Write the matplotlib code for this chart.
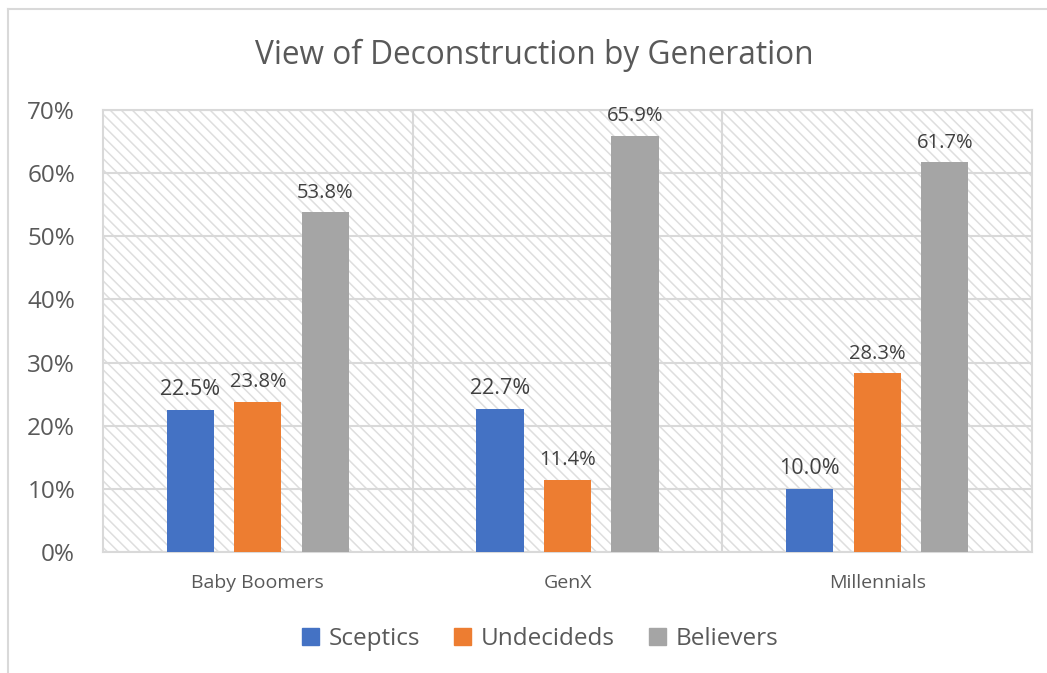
import matplotlib.pyplot as plt
import numpy as np
from matplotlib.lines import Line2D
from matplotlib.patches import Rectangle

categories = ["Baby Boomers", "GenX", "Millennials"]
series_names = ["Sceptics", "Undecideds", "Believers"]
sceptics = [22.5, 22.7, 10.0]
undecideds = [23.8, 11.4, 28.3]
believers = [53.8, 65.9, 61.7]
yticks = [0, 10, 20, 30, 40, 50, 60, 70]

colors = ["#4472C4", "#ED7D31", "#A5A5A5"]
label_sizes = [15.5, 14.5, 14.5]
text_color = "#595959"
grid_color = "#D9D9D9"

plt.rcParams["font.family"] = ["Open Sans", "DejaVu Sans"]
plt.rcParams["hatch.linewidth"] = 1.1

fig = plt.figure(figsize=(10.47, 6.73), dpi=100)
ax = fig.add_axes([0.0984, 0.1798, 0.8873, 0.6567])

# hatched plot area background
ax.add_patch(Rectangle((0, 0), 1, 1, transform=ax.transAxes, facecolor="white",
                       edgecolor="#DEDEDE", linewidth=0, hatch="\\" * 3, zorder=0))

x = np.arange(len(categories))
width = 0.152
offsets = [-0.218, 0.0, 0.218]
for values, name, color, offset, fs in zip([sceptics, undecideds, believers], series_names,
                                           colors, offsets, label_sizes):
    bars = ax.bar(x + offset, values, width, color=color, label=name, zorder=3)
    for bar, v in zip(bars, values):
        ax.annotate(f"{v:.1f}%", (bar.get_x() + bar.get_width() / 2, v),
                    xytext=(0, 7), textcoords="offset points", ha="center", va="bottom",
                    fontsize=fs, color="#404040", zorder=4)

ax.set_xlim(-0.5, 2.5)
ax.set_ylim(0, 70)
ax.set_yticks(yticks)
ax.set_yticklabels([f"{t}%" for t in yticks], fontsize=17.5, color=text_color)
ax.set_xticks(x)
ax.set_xticklabels(categories, fontsize=14, color=text_color)
ax.tick_params(length=0)
ax.tick_params(axis="y", pad=20)
ax.tick_params(axis="x", pad=16)

for t in yticks:
    ax.axhline(t, color=grid_color, linewidth=1.5, zorder=1)
for b in [0.5, 1.5]:
    ax.axvline(b, color=grid_color, linewidth=1.5, zorder=1)
for s in ax.spines.values():
    s.set_color(grid_color)
    s.set_linewidth(1.5)

fig.text(0.510, 0.918, "View of Deconstruction by Generation", ha="center", va="center",
         fontsize=22.8, color=text_color)

handles = [Rectangle((0, 0), 1, 1, color=c) for c in colors]
fig.legend(handles, series_names, loc="center", bbox_to_anchor=(0.516, 0.05), ncol=3,
           frameon=False, fontsize=17.5, labelcolor=text_color, handlelength=0.7,
           handleheight=0.7, handletextpad=0.4, columnspacing=1.4)

# outer chart border (top and left edges visible in the crop)
fig.add_artist(Line2D([0.0076, 0.0076], [0, 0.9866], color="#D9D9D9", linewidth=1.5))
fig.add_artist(Line2D([0.0076, 1.0], [0.9866, 0.9866], color="#D9D9D9", linewidth=1.5))

fig.savefig("out.png", dpi=100, facecolor="white")
